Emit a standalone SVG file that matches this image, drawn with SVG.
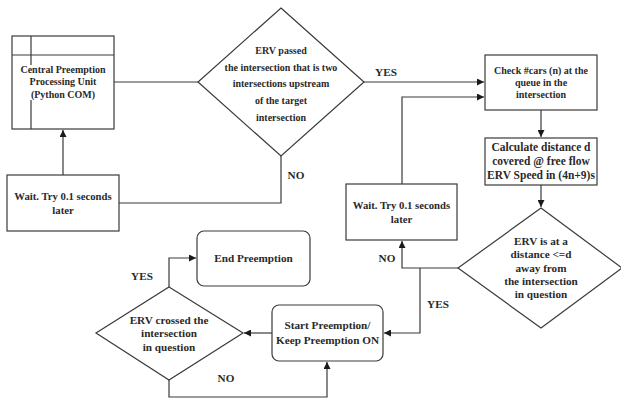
<svg xmlns="http://www.w3.org/2000/svg" width="621" height="401" viewBox="0 0 621 401">
<style>
.s{fill:#fff;stroke:#3a3a3a;stroke-width:1.2}
.c{fill:none;stroke:#3a3a3a;stroke-width:1.2}
text{font-family:"Liberation Serif","Times New Roman",serif;font-weight:bold;fill:#2a2a2a;text-anchor:middle}
.f10{font-size:10px}.f11{font-size:11.2px}.f12{font-size:11.5px}.f107{font-size:10.7px}
</style>
<defs>
<marker id="a" viewBox="0 0 10 10" refX="10" refY="5" markerWidth="7" markerHeight="7" markerUnits="userSpaceOnUse" orient="auto">
<path d="M0,0 L10,5 L0,10 Z" fill="#1a1a1a"/>
</marker>
</defs>
<g id="connectors">
<path class="c" d="M114,82 H198"/>
<path class="c" d="M364,82 H484" marker-end="url(#a)"/>
<path class="c" d="M402,184 V97 H484" marker-end="url(#a)"/>
<path class="c" d="M541,110 V137" marker-end="url(#a)"/>
<path class="c" d="M541,185 V207" marker-end="url(#a)"/>
<path class="c" d="M458,268 H402 V241" marker-end="url(#a)"/>
<path class="c" d="M420,268 V333 H384" marker-end="url(#a)"/>
<path class="c" d="M272,333 H244" marker-end="url(#a)"/>
<path class="c" d="M169,287 V258 H196" marker-end="url(#a)"/>
<path class="c" d="M169,380 V397 H327 V362" marker-end="url(#a)"/>
<path class="c" d="M281,156 V203 H119"/>
<path class="c" d="M63,175 V130" marker-end="url(#a)"/>
<text class="f11" x="386" y="76">YES</text>
<text class="f11" x="296" y="179">NO</text>
<text class="f11" x="387" y="262">NO</text>
<text class="f11" x="438" y="308">YES</text>
<text class="f11" x="142" y="280">YES</text>
<text class="f11" x="226" y="382">NO</text>
</g>
<g id="central">
<rect class="s" x="12" y="36" width="102" height="93"/>
<path class="c" d="M12,55 H114 M31,36 V65 M31,100 V129"/>
<text class="f10" x="63" y="73">Central Preemption</text>
<text class="f10" x="63" y="85">Processing Unit</text>
<text class="f10" x="63" y="98">(Python COM)</text>
</g>
<g id="decision1">
<polygon class="s" points="281,8 364,82 281,156 198,82"/>
<text class="f10" x="281" y="54">ERV passed</text>
<text class="f10" x="281" y="70.5">the intersection that is two</text>
<text class="f10" x="281" y="87">intersections upstream</text>
<text class="f10" x="281" y="104">of the target</text>
<text class="f10" x="281" y="121">intersection</text>
</g>
<g id="check">
<rect class="s" x="485" y="55" width="112" height="55"/>
<text class="f10" x="541" y="73.5">Check #cars (n) at the</text>
<text class="f10" x="541" y="85.5">queue in the</text>
<text class="f10" x="541" y="97.5">intersection</text>
</g>
<g id="calc">
<rect class="s" x="485" y="138" width="112" height="47"/>
<text class="f12" x="541" y="151">Calculate distance d</text>
<text class="f12" x="541" y="165">covered @ free flow</text>
<text class="f12" x="541" y="179">ERV Speed in (4n+9)s</text>
</g>
<g id="decision2">
<polygon class="s" points="541,208 622,268 541,328 458,268"/>
<text class="f11" x="541" y="245">ERV is at a</text>
<text class="f11" x="541" y="258">distance &lt;=d</text>
<text class="f11" x="541" y="272">away from</text>
<text class="f11" x="541" y="285">the intersection</text>
<text class="f11" x="541" y="298">in question</text>
</g>
<g id="wait2">
<rect class="s" x="346" y="184" width="111" height="56"/>
<text class="f107" x="401.5" y="209">Wait. Try 0.1 seconds</text>
<text class="f107" x="401.5" y="223">later</text>
</g>
<g id="wait1">
<rect class="s" x="7" y="175" width="112" height="56"/>
<text class="f107" x="63" y="200">Wait. Try 0.1 seconds</text>
<text class="f107" x="63" y="214">later</text>
</g>
<g id="start">
<rect class="s" x="272" y="305" width="111" height="56" rx="7"/>
<text class="f11" x="327.5" y="329">Start Preemption/</text>
<text class="f11" x="327.5" y="344">Keep Preemption ON</text>
</g>
<g id="decision3">
<polygon class="s" points="169,287 243,333 169,380 96,333"/>
<text class="f11" x="169" y="324">ERV crossed the</text>
<text class="f11" x="169" y="337">intersection</text>
<text class="f11" x="169" y="351">in question</text>
</g>
<g id="end">
<rect class="s" x="197" y="231" width="113" height="55" rx="7"/>
<text class="f11" x="253.5" y="262">End Preemption</text>
</g>
</svg>
